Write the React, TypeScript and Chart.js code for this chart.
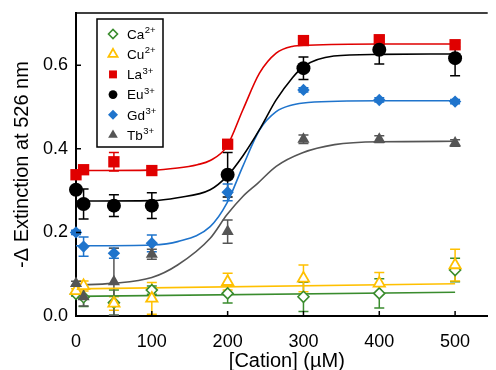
import React, { useEffect, useRef } from 'react';
import { Chart, registerables } from 'chart.js';
import { drawPoint } from 'chart.js/helpers';

Chart.register(...registerables);

// ---- data ----
const concentrations = [0, 10, 50, 100, 200, 300, 400, 500];

const caValues = [0.053, 0.045, 0.032, 0.062, 0.054, 0.046, 0.054, 0.110];
const caErrors = [0.005, 0.022, 0.030, 0.010, 0.023, 0.035, 0.035, 0.028];
const cuValues = [0.060, 0.072, 0.030, 0.042, 0.082, 0.090, 0.078, 0.122];
const cuErrors = [0.005, 0.012, 0.016, 0.038, 0.020, 0.032, 0.026, 0.038];
const laValues = [0.338, 0.350, 0.369, 0.348, 0.411, 0.659, 0.661, 0.649];
const laErrors = [0.005, 0.008, 0.022, 0.005, 0.005, 0.005, 0.005, 0.005];
const euValues = [0.302, 0.268, 0.264, 0.264, 0.338, 0.593, 0.637, 0.617];
const euErrors = [0.008, 0.036, 0.026, 0.031, 0.053, 0.027, 0.034, 0.042];
const gdValues = [0.200, 0.166, 0.150, 0.174, 0.296, 0.541, 0.517, 0.513];
const gdErrors = [0.005, 0.023, 0.012, 0.020, 0.020, 0.005, 0.005, 0.005];
const tbValues = [0.078, 0.046, 0.082, 0.148, 0.202, 0.423, 0.423, 0.414];
const tbErrors = [0.005, 0.022, 0.080, 0.012, 0.028, 0.010, 0.008, 0.008];

// fitted curves
const caFitX = [0, 500];
const caFitY = [0.047, 0.057];
const cuFitX = [0, 500];
const cuFitY = [0.065, 0.077];
const laFitX = [0, 100, 134, 160, 177, 199, 220, 242, 264, 285, 306, 400, 500];
const laFitY = [0.348, 0.349, 0.354, 0.362, 0.372, 0.406, 0.493, 0.581, 0.629, 0.645, 0.648, 0.651, 0.651];
const euFitX = [0, 100, 134, 177, 199, 220, 242, 264, 285, 300, 340, 400, 500];
const euFitY = [0.275, 0.276, 0.283, 0.302, 0.334, 0.383, 0.446, 0.517, 0.569, 0.597, 0.622, 0.626, 0.627];
const gdFitX = [0, 100, 134, 177, 199, 220, 242, 264, 285, 306, 400, 500];
const gdFitY = [0.168, 0.170, 0.178, 0.214, 0.270, 0.358, 0.445, 0.489, 0.505, 0.511, 0.515, 0.515];
const tbFitX = [0, 48, 100, 134, 177, 199, 220, 240, 264, 298, 341, 400, 500];
const tbFitY = [0.074, 0.078, 0.092, 0.122, 0.186, 0.242, 0.286, 0.318, 0.358, 0.390, 0.410, 0.417, 0.418];

const ionNames = ['Ca', 'Cu', 'La', 'Eu', 'Gd', 'Tb'];
const ionCharges = ['2+', '2+', '3+', '3+', '3+', '3+'];
const xTickValues = [0, 100, 200, 300, 400, 500];
const yTickValues = [0, 0.2, 0.4, 0.6];
const xTitle = '[Cation] (µM)';
const yTitle = '-Δ Extinction at 526 nm';

// ---- styles ----
const FONT = '"Liberation Sans", Arial, Helvetica, sans-serif';
const GREEN = '#3a8c2e';
const YELLOW = '#ffc000';
const RED = '#e00000';
const BLACK = '#000000';
const BLUE = '#1f74cc';
const GRAY = '#555555';

const series = [
  { values: caValues, errors: caErrors, fitX: caFitX, fitY: caFitY, color: GREEN, fill: '#ffffff', style: 'rectRot', radius: 5.5, lw: 1.6, legendRadius: 4.5, order: 6 },
  { values: cuValues, errors: cuErrors, fitX: cuFitX, fitY: cuFitY, color: YELLOW, fill: '#ffffff', style: 'triangle', radius: 6.5, lw: 1.8, legendRadius: 5.3, order: 5 },
  { values: laValues, errors: laErrors, fitX: laFitX, fitY: laFitY, color: RED, fill: RED, style: 'rect', radius: 8, lw: 0, legendRadius: 5.6, order: 4 },
  { values: euValues, errors: euErrors, fitX: euFitX, fitY: euFitY, color: BLACK, fill: BLACK, style: 'circle', radius: 7, lw: 0, legendRadius: 4.4, order: 3 },
  { values: gdValues, errors: gdErrors, fitX: gdFitX, fitY: gdFitY, color: BLUE, fill: BLUE, style: 'rectRot', radius: 6.2, lw: 0, legendRadius: 5, order: 2 },
  { values: tbValues, errors: tbErrors, fitX: tbFitX, fitY: tbFitY, color: GRAY, fill: GRAY, style: 'triangle', radius: 7, lw: 0, legendRadius: 5.6, order: 1 },
];

const errorBarPlugin = {
  id: 'errorBars',
  beforeDatasetsDraw(chart: any) {
    const { ctx } = chart;
    const yScale = chart.scales.y;
    ctx.save();
    chart.data.datasets.forEach((ds: any, di: number) => {
      if (!ds.errors) return;
      const meta = chart.getDatasetMeta(di);
      ctx.strokeStyle = ds.errorColor;
      ctx.lineWidth = 1.5;
      meta.data.forEach((pt: any, i: number) => {
        const v = ds.data[i].y;
        const e = ds.errors[i];
        const x = pt.x;
        const yt = yScale.getPixelForValue(v + e);
        const yb = yScale.getPixelForValue(v - e);
        ctx.beginPath();
        ctx.moveTo(x, yt); ctx.lineTo(x, yb);
        ctx.moveTo(x - 5, yt); ctx.lineTo(x + 5, yt);
        ctx.moveTo(x - 5, yb); ctx.lineTo(x + 5, yb);
        ctx.stroke();
      });
    });
    ctx.restore();
  },
};

const framePlugin = {
  id: 'frame',
  afterDatasetsDraw(chart: any) {
    const { ctx, chartArea } = chart;
    const xs = chart.scales.x;
    const ys = chart.scales.y;
    ctx.save();
    ctx.strokeStyle = '#000';
    ctx.lineWidth = 1.6;
    ctx.beginPath();
    ctx.moveTo(chartArea.left, chartArea.top);
    ctx.lineTo(chartArea.right, chartArea.top);
    ctx.stroke();
    ctx.lineWidth = 1.5;
    ctx.beginPath();
    xs.ticks.forEach((t: any) => {
      const px = xs.getPixelForValue(t.value);
      ctx.moveTo(px, chartArea.bottom);
      ctx.lineTo(px, chartArea.bottom - 5);
    });
    ys.ticks.forEach((t: any) => {
      const py = ys.getPixelForValue(t.value);
      ctx.moveTo(chartArea.left, py);
      ctx.lineTo(chartArea.left + 5, py);
    });
    ctx.stroke();
    // x-axis title
    ctx.fillStyle = '#000';
    ctx.font = `20px ${FONT}`;
    ctx.textAlign = 'center';
    ctx.textBaseline = 'middle';
    ctx.fillText(xTitle, (chartArea.left + chartArea.right) / 2 + 5, chartArea.bottom + 45);
    ctx.restore();
  },
};

const legendPlugin = {
  id: 'boxLegend',
  afterDraw(chart: any) {
    const { ctx, chartArea } = chart;
    const left = chartArea.left + 21;
    const top = chartArea.top + 6;
    const w = 66;
    const h = 128;
    ctx.save();
    ctx.fillStyle = '#fff';
    ctx.fillRect(left, top, w, h);
    ctx.strokeStyle = '#000';
    ctx.lineWidth = 1.5;
    ctx.strokeRect(left, top, w, h);
    chart.data.datasets.forEach((ds: any) => {
      if (ds.legendIndex === undefined) return;
      const i = ds.legendIndex;
      const cy = top + 15 + i * 20.2;
      ctx.fillStyle = ds.backgroundColor;
      ctx.strokeStyle = ds.borderColor;
      ctx.lineWidth = ds.borderWidth;
      drawPoint(ctx, { pointStyle: ds.pointStyle, radius: ds.legendRadius, rotation: 0, borderWidth: ds.borderWidth }, left + 16, cy);
      ctx.fillStyle = '#000';
      ctx.textAlign = 'left';
      ctx.textBaseline = 'middle';
      ctx.font = `13.5px ${FONT}`;
      ctx.fillText(ionNames[i], left + 30, cy + 1);
      const wb = ctx.measureText(ionNames[i]).width;
      ctx.font = `9.5px ${FONT}`;
      ctx.fillText(ionCharges[i], left + 30 + wb + 0.5, cy - 3.5);
    });
    ctx.restore();
  },
};

export default function App() {
  const ref = useRef<HTMLCanvasElement | null>(null);
  useEffect(() => {
    if (!ref.current) return;
    Chart.defaults.font.family = FONT;
    Chart.defaults.color = '#000';

    const datasets: any[] = [];
    series.forEach((s, i) => {
      datasets.push({
        type: 'scatter',
        label: ionNames[i] + ionCharges[i],
        data: concentrations.map((x, j) => ({ x, y: s.values[j] })),
        errors: s.errors,
        errorColor: s.color,
        legendIndex: i,
        legendRadius: s.legendRadius,
        pointStyle: s.style,
        pointRadius: s.radius,
        pointHoverRadius: s.radius,
        backgroundColor: s.fill,
        borderColor: s.color,
        borderWidth: s.lw,
        pointBorderWidth: s.lw,
        showLine: false,
        clip: false,
        order: s.order,
      });
    });
    series.forEach((s, i) => {
      datasets.push({
        type: 'line',
        label: ionNames[i] + ' fit',
        data: s.fitX.map((x, j) => ({ x, y: s.fitY[j] })),
        borderColor: s.color,
        borderWidth: 1.6,
        pointRadius: 0,
        fill: false,
        showLine: true,
        cubicInterpolationMode: 'monotone',
        order: 20 + i,
      });
    });

    const chart = new Chart(ref.current, {
      type: 'scatter',
      data: { datasets },
      options: {
        animation: false,
        responsive: false,
        layout: { padding: { top: 13, right: 0, left: 0, bottom: 0 } },
        plugins: { legend: { display: false }, tooltip: { enabled: false } },
        scales: {
          x: {
            type: 'linear',
            min: 0,
            max: 543,
            afterFit: (scale: any) => { scale.height = 54; scale.paddingLeft = 0; scale.paddingRight = 0; },
            afterBuildTicks: (scale: any) => { scale.ticks = xTickValues.map((v) => ({ value: v })); },
            grid: { display: false, drawTicks: false },
            border: { display: true, color: '#000', width: 2 },
            ticks: { font: { size: 18 }, color: '#000', padding: 15, maxRotation: 0, callback: (v: any) => String(v) },
            title: { display: false },
          },
          y: {
            type: 'linear',
            min: 0,
            max: 0.725,
            afterFit: (scale: any) => { scale.width = 76; scale.paddingTop = 0; scale.paddingBottom = 0; },
            afterBuildTicks: (scale: any) => { scale.ticks = yTickValues.map((v) => ({ value: v })); },
            grid: { display: false, drawTicks: false },
            border: { display: true, color: '#000', width: 2 },
            ticks: { font: { size: 18 }, color: '#000', padding: 8, callback: (v: any) => Number(v).toFixed(1) },
            title: { display: true, text: yTitle, font: { size: 20 }, color: '#000', padding: { top: 10, bottom: 0 } },
          },
        },
      },
      plugins: [errorBarPlugin, framePlugin, legendPlugin],
    } as any);
    return () => chart.destroy();
  }, []);

  return (
    <div style={{ position: 'absolute', left: 0, top: 0, width: 496, height: 370, background: '#fff' }}>
      <canvas ref={ref} width={496} height={370} style={{ display: 'block' }} />
    </div>
  );
}
